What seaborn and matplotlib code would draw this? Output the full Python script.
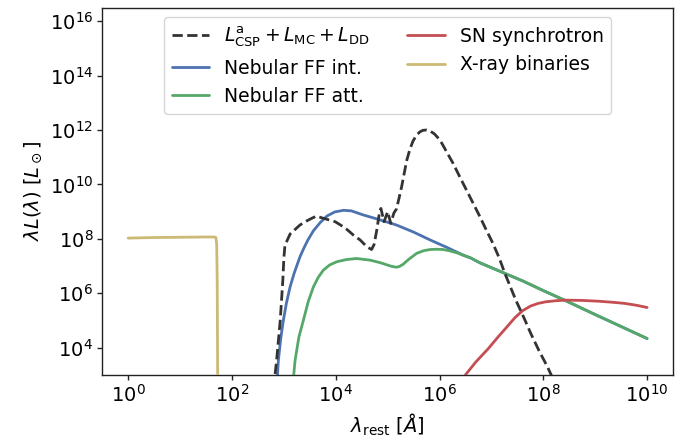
import numpy as np
import pandas as pd
import matplotlib
matplotlib.use("Agg")
import matplotlib.pyplot as plt
import seaborn as sns

# ---- data: log10(wavelength / Å) and log10(lambda L / L_sun) ----
csp_loglam = [2.80, 2.86, 2.93, 2.96, 2.98, 3.00, 3.02, 3.06, 3.12, 3.20, 3.31, 3.42, 3.52, 3.63,
              3.72, 3.83, 3.99, 4.10, 4.22, 4.34, 4.47, 4.60, 4.69, 4.74, 4.79, 4.84, 4.87,
              4.93, 5.00, 5.06, 5.12, 5.17, 5.22, 5.27, 5.32, 5.37, 5.43, 5.49, 5.56, 5.62,
              5.68, 5.75, 5.82, 5.90, 6.01, 6.13, 6.26, 6.39, 6.52, 6.65, 6.78, 6.90, 7.03,
              7.15, 7.26, 7.47, 7.62, 7.76, 7.92, 8.08, 8.20]
csp_logL = [2.50, 3.54, 5.01, 5.90, 6.49, 7.30, 7.75, 7.93, 8.18, 8.32, 8.51, 8.64, 8.74, 8.84,
            8.78, 8.72, 8.63, 8.50, 8.34, 8.14, 7.96, 7.71, 7.61, 7.80, 8.32, 8.94, 9.12,
            8.63, 9.00, 8.57, 8.95, 9.10, 9.50, 9.92, 10.42, 10.90, 11.30, 11.60, 11.82, 11.93,
            11.99, 12.00, 11.96, 11.86, 11.63, 11.22, 10.78, 10.28, 9.79, 9.30, 8.81, 8.33, 7.83,
            7.30, 6.73, 5.75, 5.13, 4.52, 3.88, 3.30, 2.80]

nebint_loglam = [2.86, 2.894, 2.94, 2.99, 3.05, 3.12, 3.20, 3.31, 3.38, 3.46, 3.57, 3.70, 3.83,
                 3.98, 4.15, 4.30, 4.53, 4.80, 5.17, 5.50, 5.82, 6.15, 6.46, 6.60, 6.78, 7.30,
                 7.61, 8.00, 8.43, 9.00, 10.00]
nebint_logL = [2.50, 3.54, 4.35, 5.01, 5.65, 6.24, 6.75, 7.34, 7.64, 7.95, 8.30, 8.60, 8.84,
               8.99, 9.05, 9.03, 8.88, 8.73, 8.51, 8.25, 7.96, 7.68, 7.40, 7.30, 7.12, 6.70,
               6.45, 6.10, 5.73, 5.22, 4.34]

nebatt_loglam = [3.18, 3.216, 3.29, 3.376, 3.47, 3.57, 3.66, 3.76, 3.88, 4.02, 4.20, 4.40, 4.66,
                 4.85, 4.98, 5.08, 5.17, 5.23, 5.30, 5.40, 5.56, 5.70, 5.82, 5.95, 6.07, 6.20,
                 6.33, 6.46, 6.60, 6.78, 7.30, 7.61, 8.00, 8.43, 9.00, 10.00]
nebatt_logL = [2.80, 3.54, 4.40, 5.01, 5.70, 6.24, 6.58, 6.85, 7.04, 7.16, 7.24, 7.28, 7.22,
               7.13, 7.05, 6.99, 6.96, 6.99, 7.07, 7.24, 7.47, 7.57, 7.61, 7.62, 7.61, 7.56,
               7.49, 7.40, 7.30, 7.12, 6.70, 6.45, 6.10, 5.73, 5.22, 4.34]

sn_loglam = [6.40, 6.51, 6.70, 6.94, 7.12, 7.30, 7.45, 7.60, 7.75, 7.90, 8.05, 8.25, 8.43,
             8.75, 9.07, 9.35, 9.57, 9.80, 10.00]
sn_logL = [2.75, 3.03, 3.48, 3.97, 4.38, 4.77, 5.10, 5.36, 5.53, 5.63, 5.69, 5.73, 5.75,
           5.74, 5.71, 5.67, 5.63, 5.56, 5.48]

xrb_loglam = [0.00, 0.50, 1.00, 1.50, 1.66, 1.69, 1.705, 1.715, 1.72, 1.725]
xrb_logL = [8.03, 8.05, 8.06, 8.07, 8.07, 8.05, 7.80, 6.50, 4.50, 2.50]

labels = [r"$L_{\rm CSP}^{\rm a} + L_{\rm MC} + L_{\rm DD}$", "Nebular FF int.",
          "Nebular FF att.", "SN synchrotron", "X-ray binaries"]

sns.set_theme(style="ticks")
plt.rcParams['font.family'] = ['DejaVu Sans']
plt.rcParams['mathtext.fontset'] = 'dejavusans'
plt.rcParams['text.color'] = 'black'
plt.rcParams['axes.labelcolor'] = 'black'
plt.rcParams['xtick.color'] = '#222222'
plt.rcParams['ytick.color'] = '#222222'
plt.rcParams['xtick.labelcolor'] = 'black'
plt.rcParams['ytick.labelcolor'] = 'black'
plt.rcParams['axes.edgecolor'] = '#222222'

deep = sns.color_palette("deep")
c_blue, c_green, c_red, c_yel = deep[0], deep[2], deep[3], deep[8]
c_black = (0.2, 0.2, 0.2)

fig = plt.figure(figsize=(6.91, 4.43), dpi=100)
ax = fig.add_axes([0.148, 0.1535, 0.826, 0.8295])

def draw(loglam, logL, color, ls="-", z=2):
    df = pd.DataFrame({"lam": np.power(10.0, loglam), "L": np.power(10.0, logL)})
    sns.lineplot(data=df, x="lam", y="L", ax=ax, color=color, lw=2.0, linestyle=ls,
                 sort=False, estimator=None, zorder=z)
    return ax.lines[-1]

h_int = draw(nebint_loglam, nebint_logL, c_blue, z=2)
h_att = draw(nebatt_loglam, nebatt_logL, c_green, z=3)
h_sn = draw(sn_loglam, sn_logL, c_red, z=3)
h_xrb = draw(xrb_loglam, xrb_logL, c_yel, z=3)
h_csp = draw(csp_loglam, csp_logL, c_black, ls="--", z=4)

ax.set_xscale("log")
ax.set_yscale("log")
ax.set_xlim(10 ** -0.5, 10 ** 10.5)
ax.set_ylim(1e3, 10 ** 16.5)
ax.set_xticks([10.0 ** k for k in range(0, 11, 2)])
ax.set_yticks([10.0 ** k for k in range(4, 17, 2)])
ax.minorticks_off()
ax.tick_params(axis="both", which="major", length=3.5, width=1.0, labelsize=14, pad=3)
for sp in ax.spines.values():
    sp.set_linewidth(1.0)

ax.set_xlabel(r"$\lambda_{\rm rest}\ [\AA]$", fontsize=14)
ax.set_ylabel(r"$\lambda L(\lambda)\ [L_\odot]$", fontsize=14)

ax.legend([h_csp, h_int, h_att, h_sn, h_xrb], labels, loc="upper center", ncol=2,
          fontsize=13.5, frameon=True, handlelength=2.0, columnspacing=2.0)

fig.savefig("out.png", dpi=100)
